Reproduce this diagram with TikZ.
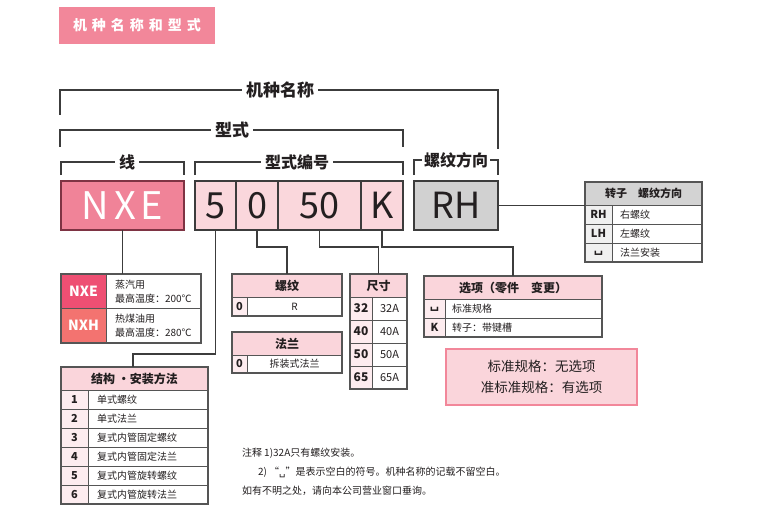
\documentclass[tikz,border=0pt]{standalone}
\usepackage{fontspec}
\setmainfont{Noto Sans CJK SC}
\newfontfamily\dejavu{DejaVu Sans}
\usetikzlibrary{calc}
\definecolor{ttlpink}{HTML}{F2879A}
\definecolor{boxpink}{HTML}{FAD7DC}
\definecolor{nxefill}{HTML}{F08398}
\definecolor{nxeborder}{HTML}{7E3343}
\definecolor{rhgray}{HTML}{D1D1D1}
\definecolor{linec}{HTML}{3C3C3C}
\definecolor{txt}{HTML}{231F20}
\definecolor{nxerow}{HTML}{EE4F73}
\definecolor{nxhrow}{HTML}{F37370}
\definecolor{hdrpink}{HTML}{FAD5DB}
\definecolor{colpink}{HTML}{FDECEF}
\definecolor{hdrgray}{HTML}{D3D3D3}
\definecolor{colgray}{HTML}{F0F0F0}
\definecolor{tabline}{HTML}{555555}
\newcommand{\fsz}[1]{\fontsize{#1}{#1}\selectfont}
\newcommand{\blank}{{\dejavu ␣}}
\newcommand{\bigblank}{{\dejavu\fsz{13}␣}}
\begin{document}
\begin{tikzpicture}[x=1pt,y=-1pt,
  every node/.style={outer sep=0pt, text=txt},
  br/.style={draw=linec, line width=1.1pt},
  brlabel/.style={fill=white, inner xsep=4pt, inner ysep=1pt, font=\bfseries\fsz{16}},
  mainbox/.style={draw=linec, line width=1.4pt, fill=boxpink, minimum height=49pt, inner sep=0pt, anchor=north west, font=\fsz{36}},
  conn/.style={draw=linec, line width=1.1pt},
  tframe/.style={draw=tabline, line width=1.3pt, inner sep=0pt, anchor=north west},
  tline/.style={draw=tabline, line width=0.9pt},
  hd/.style={font=\bfseries\fsz{12}},
  num/.style={font=\bfseries\fsz{11}},
  bd/.style={font=\fsz{10}},
  bdl/.style={font=\fsz{10}, anchor=west, inner sep=0pt},
  fnote/.style={anchor=west, inner sep=0pt, font=\fsz{10}},
]
\useasboundingbox (0,0) rectangle (759,513);

% title
\node[fill=ttlpink, minimum width=156pt, minimum height=37pt, anchor=north west, inner sep=0pt, text=white, font=\bfseries\fsz{14}] (title) at (59,7) {机\hspace{5pt}种\hspace{5pt}名\hspace{5pt}称\hspace{5pt}和\hspace{5pt}型\hspace{5pt}式};

% brackets
\draw[br] (60,115) |- (498,90) -- (498,149);
\node[brlabel, font=\bfseries\fsz{17}] (lbjz) at (280,90) {机种名称};
\draw[br] (60,147) |- (403,130) -- (403,147);
\node[brlabel, font=\bfseries\fsz{17}] (lbxs) at (232,130) {型式};
\draw[br] (61,175) |- (184,162) -- (184,175);
\node[brlabel] (lbx) at (127,162) {线};
\draw[br] (195,175) |- (403,162) -- (403,175);
\node[brlabel] (lbbh) at (297,162) {型式编号};
\draw[br] (414,175) |- (498,160) -- (498,175);
\node[brlabel, inner xsep=2pt] (lbfx) at (456,160) {螺纹方向};

% main boxes
\node[mainbox, fill=nxefill, draw=nxeborder, text=white, minimum width=123pt, font=\fsz{38}] (nxe) at (61,181) {N\hspace{5pt}X\hspace{5pt}E};
\node[mainbox, minimum width=41pt] (b5) at (195,181) {5};
\node[mainbox, minimum width=42pt] (b0) at (236,181) {0};
\node[mainbox, minimum width=83pt] (b50) at (278,181) {50};
\node[mainbox, minimum width=42pt] (bk) at (361,181) {K};
\node[mainbox, fill=rhgray, minimum width=84pt] (rh) at (414,181) {RH};

% NXE table
\fill[nxerow] (61,274) rectangle (106,308);
\fill[nxhrow] (61,308) rectangle (106,343);
\draw[tline] (106,274) -- (106,343);
\draw[tline] (61,308) -- (201,308);
\node[tframe, minimum width=140pt, minimum height=69pt] (tnxe) at (61,274) {};
\node[font=\bfseries\fsz{14}, text=white] (cnxe) at (83.5,291) {NXE};
\node[font=\bfseries\fsz{14}, text=white] (cnxh) at (83.5,325.5) {NXH};
\node[bdl] (d1a) at (115,285) {蒸汽用};
\node[bdl] (d1b) at (115,298.5) {最高温度：200℃};
\node[bdl] (d2a) at (115,319) {热煤油用};
\node[bdl] (d2b) at (115,332.5) {最高温度：280℃};

% structure table
\fill[hdrpink] (61,367) rectangle (208,390);
\fill[colpink] (61,390) rectangle (88,504);
\foreach \yy in {390,409,428,447,466,485} \draw[tline] (61,\yy) -- (208,\yy);
\draw[tline] (88,390) -- (88,504);
\node[tframe, minimum width=147pt, minimum height=137pt] (tjg) at (61,367) {};
\node[hd] (hjg) at (134.5,378.5) {结构 ·安装方法};
\foreach \i/\t [evaluate=\i as \yc using 380.5+19*\i] in {1/单式螺纹,2/单式法兰,3/复式内管固定螺纹,4/复式内管固定法兰,5/复式内管旋转螺纹,6/复式内管旋转法兰}{
  \node[num] (jn\i) at (74.5,\yc) {\i};
  \node[bdl] (jt\i) at (97,\yc) {\t};
}

% thread table
\fill[hdrpink] (232,274) rectangle (342,297);
\fill[colpink] (232,297) rectangle (247,316);
\draw[tline] (232,297) -- (342,297);
\draw[tline] (247,297) -- (247,316);
\node[tframe, minimum width=110pt, minimum height=42pt] (tlw) at (232,274) {};
\node[hd] (hlw) at (287,285.5) {螺纹};
\node[num] (lw0) at (239.5,306.5) {0};
\node[bd] (lwr) at (294.5,306.5) {R};

% flange table
\fill[hdrpink] (232,332) rectangle (342,355);
\fill[colpink] (232,355) rectangle (247,373);
\draw[tline] (232,355) -- (342,355);
\draw[tline] (247,355) -- (247,373);
\node[tframe, minimum width=110pt, minimum height=41pt] (tfl) at (232,332) {};
\node[hd] (hfl) at (287,343.5) {法兰};
\node[num] (fl0) at (239.5,364) {0};
\node[bd] (flt) at (294.5,364) {拆装式法兰};

% size table
\fill[hdrpink] (350,274) rectangle (407,297);
\fill[colpink] (350,297) rectangle (372,389);
\foreach \yy in {297,320,343,366} \draw[tline] (350,\yy) -- (407,\yy);
\draw[tline] (372,297) -- (372,389);
\node[tframe, minimum width=57pt, minimum height=115pt] (tcc) at (350,274) {};
\node[hd] (hcc) at (378.5,285.5) {尺寸};
\foreach \s/\yc in {32/308.5,40/331.5,50/354.5,65/377.5}{
  \node[font=\bfseries\fsz{12}] (cn\s) at (361,\yc) {\s};
  \node[font=\fsz{11}] (cv\s) at (389.5,\yc) {\s A};
}

% option table
\fill[hdrpink] (424,276) rectangle (602,299);
\fill[colpink] (424,299) rectangle (445,337);
\draw[tline] (424,299) -- (602,299);
\draw[tline] (424,318) -- (602,318);
\draw[tline] (445,299) -- (445,337);
\node[tframe, minimum width=178pt, minimum height=61pt] (txx) at (424,276) {};
\node[hd] (hxx) at (513,287.5) {选项（零件　变更）};
\node[font=\bfseries] (xx1) at (434.5,309.5) {\bigblank};
\node[num] (xx2) at (434.5,327.5) {K};
\node[bdl] (xt1) at (452,308.5) {标准规格};
\node[bdl] (xt2) at (452,327.5) {转子：带键槽};

% note box
\node[fill=hdrpink, draw=ttlpink, line width=1.5pt, minimum width=191pt, minimum height=56pt, anchor=north west, align=center, font=\fontsize{13.5}{21}\selectfont] (note) at (446,349) {标准规格：无选项\\准标准规格：有选项};

% rotor thread direction table
\fill[hdrgray] (585,182) rectangle (702,205);
\fill[colgray] (585,205) rectangle (612,262);
\draw[tline] (585,205) -- (702,205);
\draw[tline] (585,224) -- (702,224);
\draw[tline] (585,243) -- (702,243);
\draw[tline] (612,205) -- (612,262);
\node[tframe, minimum width=117pt, minimum height=80pt] (trh) at (585,182) {};
\node[font=\bfseries\fsz{11}] (hrh) at (643.5,193.5) {转子　螺纹方向};
\node[num] (r1) at (598.5,214.5) {RH};
\node[num] (r2) at (598.5,233.5) {LH};
\node[font=\bfseries] (r3) at (598.5,253.5) {\bigblank};
\node[bdl] (rt1) at (620,214.5) {右螺纹};
\node[bdl] (rt2) at (620,233.5) {左螺纹};
\node[bdl] (rt3) at (620,252.5) {法兰安装};

% connectors
\coordinate (j5) at (133,354);
\coordinate (lvl) at (0,247);
\draw[conn] (nxe.south) -- (nxe.south |- tnxe.north);
\draw[conn] (b5.south) |- (j5) -- (j5 |- tjg.north);
\draw[conn] (b0.south) -- (b0.south |- lvl) -| (tlw.north);
\draw[conn] (b50.south) -- (b50.south |- lvl) -| (tcc.north);
\draw[conn] (bk.south) -- (bk.south |- lvl) -| (txx.north);
\draw[conn] (rh.east) -- (rh.east -| trh.west);

% footnotes
\node[fnote] (fn1) at (242,453) {注释 1)32A只有螺纹安装。};
\node[fnote] (fn2) at (258,472) {2) “\blank”是表示空白的符号。机种名称的记载不留空白。};
\node[fnote] (fn3) at (242,491) {如有不明之处，请向本公司营业窗口垂询。};
\end{tikzpicture}
\end{document}
